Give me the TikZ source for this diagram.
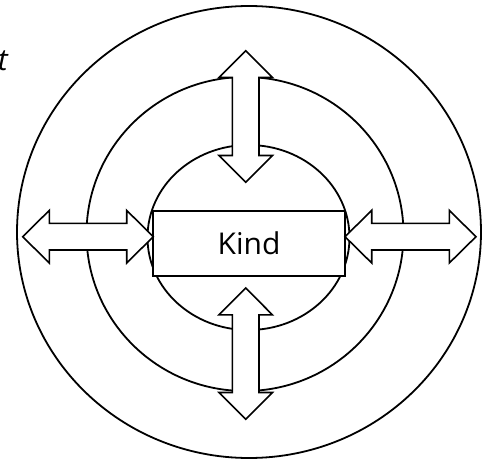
\documentclass[tikz,border=0pt]{standalone}
\usepackage{fontspec}
\setmainfont{Open Sans}
\begin{document}
\begin{tikzpicture}[x=1pt,y=-1pt,
  ring/.style={draw=black,line width=1.8pt},
  arrowshape/.style={draw=black,fill=white,line width=1.6pt,line join=miter},
  kindbox/.style={draw=black,fill=white,line width=1.8pt,minimum width=192pt,minimum height=65pt,inner sep=0pt,font=\fontsize{30}{36}\selectfont}]
\useasboundingbox (0,0) rectangle (491,461);
% rings
\draw[ring] (249,232) ellipse [x radius=232, y radius=226];
\draw[ring] (245,234) ellipse [x radius=158.5, y radius=157];
\draw[ring] (248.5,237.5) ellipse [x radius=101, y radius=92.5];
% centre box
\node[kindbox] (kind) at (249,243.5) {Kind};
% left arrow
\draw[arrowshape] (22.7,236.7) -- (49.3,210.4) -- (49.3,223.4) -- (126.7,223.4) -- (126.7,210.4)
  -- (153.3,236.7) -- (126.7,263) -- (126.7,250) -- (49.3,250) -- (49.3,263) -- cycle;
% right arrow
\draw[arrowshape] (345,236.7) -- (371.7,210.4) -- (371.7,223.4) -- (449.3,223.4) -- (449.3,210.4)
  -- (476,236.7) -- (449.3,263) -- (449.3,250) -- (371.7,250) -- (371.7,263) -- cycle;
% top arrow
\draw[arrowshape] (245.7,50.7) -- (272.4,77.5) -- (259,77.5) -- (259,155.5) -- (272.4,155.5)
  -- (245.7,182.3) -- (219,155.5) -- (232.4,155.5) -- (232.4,77.5) -- (219,77.5) -- cycle;
% bottom arrow
\draw[arrowshape] (245.7,288) -- (272.4,314.8) -- (259,314.8) -- (259,392.5) -- (272.4,392.5)
  -- (245.7,419.3) -- (219,392.5) -- (232.4,392.5) -- (232.4,314.8) -- (219,314.8) -- cycle;
% clipped letter at top left
\node[anchor=base east,inner sep=0pt,font=\fontsize{30}{36}\selectfont\itshape] (tletter) at (8,70) {t};
\end{tikzpicture}
\end{document}
